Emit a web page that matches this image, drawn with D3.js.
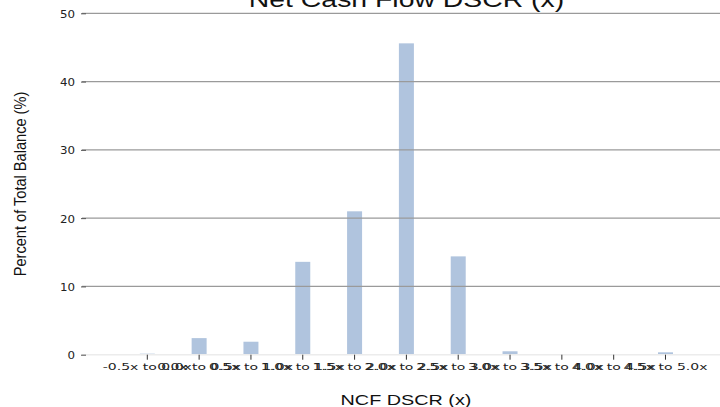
<!DOCTYPE html>
<html><head><meta charset="utf-8">
<script src="https://cdn.jsdelivr.net/npm/d3@7"></script>
<style>body{margin:0;background:#fff}svg{display:block}</style>
</head><body>
<svg id="c" width="720" height="407"></svg>
<script>
const categories = ["-0.5x to 0.0x","0.0x to 0.5x","0.5x to 1.0x","1.0x to 1.5x","1.5x to 2.0x","2.0x to 2.5x","2.5x to 3.0x","3.0x to 3.5x","3.5x to 4.0x","4.0x to 4.5x","4.5x to 5.0x"];
const values = [0.15, 2.43, 1.9, 13.6, 21.0, 45.6, 14.4, 0.5, 0, 0, 0.35];
const yTicks = [0, 10, 20, 30, 40, 50];
const title = "Net Cash Flow DSCR (x)";
const xLabel = "NCF DSCR (x)";
const yLabel = "Percent of Total Balance (%)";

const svg = d3.select("#c");
const plotLeft = 82, plotRight = 720;
const x = d3.scaleBand().domain(categories).range([121.4, 691.4]).padding(0);
const y = d3.scaleLinear().domain([0, 50]).range([354.7, 13.3]);
const barW = 15;

// bars
svg.append("g").selectAll("rect").data(values).join("rect")
  .attr("x", (d,i) => x(categories[i]) + x.bandwidth()/2 - barW/2)
  .attr("width", barW)
  .attr("y", d => y(d))
  .attr("height", d => y(0) - y(d))
  .attr("fill", "#b0c4de");

// gridlines
svg.append("g").selectAll("line").data(yTicks).join("line")
  .attr("x1", plotLeft).attr("x2", plotRight)
  .attr("y1", d => y(d)).attr("y2", d => y(d))
  .attr("stroke", d => d === 0 ? "#ececec" : "#9a9a9a")
  .attr("stroke-width", d => d === 0 ? 1.5 : 1.3);

// y axis
const ya = svg.append("g").attr("transform", `translate(86,0)`)
  .call(d3.axisLeft(y).tickValues(yTicks).tickSize(5).tickPadding(6).tickFormat(d3.format("d")));
ya.select(".domain").remove();
ya.selectAll(".tick line").attr("stroke", "#555").attr("stroke-width", 1);
ya.selectAll(".tick text")
  .attr("x", null).attr("dy", null)
  .attr("transform", "translate(-11,4) scale(1,0.86)")
  .attr("font-family", "DejaVu Sans").attr("font-size", 11.8).attr("fill", "#222");

// x axis
const xa = svg.append("g").attr("transform", `translate(0,${y(0)})`)
  .call(d3.axisBottom(x).tickSize(5).tickSizeOuter(0));
xa.select(".domain").remove();
xa.selectAll(".tick line").attr("stroke", "#333").attr("stroke-width", 1);
xa.selectAll(".tick text")
  .attr("y", null).attr("dy", null)
  .attr("transform", "translate(0,15.3) scale(1,0.6)")
  .attr("font-family", "DejaVu Sans").attr("font-size", 14).attr("fill", "#222");

// title
svg.append("text").text(title)
  .attr("transform", "translate(406.5,7.3) scale(1,0.78)")
  .attr("text-anchor", "middle")
  .attr("font-family", "Liberation Sans, Arial, sans-serif").attr("font-size", 28.4).attr("fill", "#111");

// x label
svg.append("text").text(xLabel)
  .attr("transform", "translate(406,405) scale(1,0.78)")
  .attr("text-anchor", "middle")
  .attr("font-family", "Liberation Sans, Arial, sans-serif").attr("font-size", 19.8).attr("fill", "#111");

// y label
svg.append("text").text(yLabel)
  .attr("transform", "translate(26,184) rotate(-90) scale(1,1.1)")
  .attr("text-anchor", "middle")
  .attr("font-family", "Liberation Sans, Arial, sans-serif").attr("font-size", 14.6).attr("fill", "#111");
</script>
</body></html>
